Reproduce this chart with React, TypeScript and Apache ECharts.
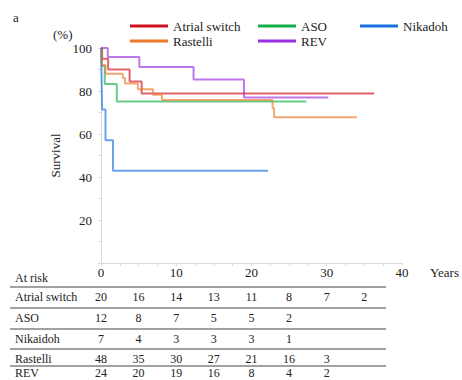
import React, { useEffect, useRef } from 'react';
import * as echarts from 'echarts';

// Legend / series names (as printed in the legend)
const seriesNames = ['Atrial switch', 'ASO', 'Nikadoh', 'Rastelli', 'REV'];
const seriesColors = ['#d0101e', '#12b04a', '#1a6ee0', '#ea7a26', '#9a2ee0'];

// Kaplan-Meier step points: time (years) and survival (%)
const atrialT = [0, 0.15, 0.95, 3.8, 5.4, 36.3];
const atrialS = [100, 95, 90, 84.4, 78.8, 78.8];
const asoT = [0, 0.1, 0.5, 2.1, 27.3];
const asoS = [100, 91.7, 83.3, 75.1, 75.1];
const nikT = [0, 0.08, 0.15, 0.6, 1.6, 22.2];
const nikS = [100, 85.7, 71.4, 57.1, 42.9, 42.9];
const rasT = [0, 0.1, 0.6, 2.9, 3.2, 4.9, 6.9, 8.1, 22.8, 23.0, 34.0];
const rasS = [100, 92, 88, 86, 83.5, 80.8, 78.3, 75.8, 72, 67.8, 67.8];
const revT = [0, 0.9, 5.1, 12.3, 19.0, 30.2];
const revS = [100, 95.8, 91.2, 85.4, 77, 77];

// Number at risk table
const riskYears = [0, 5, 10, 15, 20, 25, 30, 35];
const riskGroups = ['Atrial switch', 'ASO', 'Nikaidoh', 'Rastelli', 'REV'];
const riskAtrial = [20, 16, 14, 13, 11, 8, 7, 2];
const riskASO = [12, 8, 7, 5, 5, 2];
const riskNik = [7, 4, 3, 3, 3, 1];
const riskRas = [48, 35, 30, 27, 21, 16, 3];
const riskREV = [24, 20, 19, 16, 8, 4, 2];

// tick values
const xTicks = [0, 10, 20, 30, 40];
const yTicks = [20, 40, 60, 80, 100];

const FONT = 'Liberation Serif, Times New Roman, serif';

export default function App() {
  const ref = useRef<HTMLDivElement>(null);
  useEffect(() => {
    if (!ref.current) return;
    const chart = echarts.init(ref.current, undefined, { renderer: 'svg' });
    const times = [atrialT, asoT, nikT, rasT, revT];
    const survs = [atrialS, asoS, nikS, rasS, revS];
    const series = seriesNames.map((name, i) => ({
      name,
      type: 'line',
      step: 'end',
      symbol: 'none',
      color: seriesColors[i],
      lineStyle: { width: 2, opacity: 0.65 },
      data: times[i].map((t, j) => [t, survs[i][j]]),
    }));
    const legendBase = {
      orient: 'vertical',
      top: 14,
      icon: 'rect',
      itemWidth: 38,
      itemHeight: 3,
      itemGap: 1,
      itemTextGap: 7,
      textStyle: { fontFamily: FONT, fontSize: 13, color: '#222', lineHeight: 14 },
    };
    chart.setOption({
      animation: false,
      grid: { left: 101, right: 59, top: 48, bottom: 117 },
      legend: [
        { ...legendBase, left: 125, data: ['Atrial switch', 'Rastelli'] },
        { ...legendBase, left: 253, data: ['ASO', 'REV'] },
        { ...legendBase, left: 355, data: ['Nikadoh'] },
      ],
      xAxis: {
        type: 'value',
        min: xTicks[0],
        max: xTicks[xTicks.length - 1],
        interval: 10,
        name: 'Years',
        nameLocation: 'end',
        nameGap: 28,
        nameTextStyle: { fontFamily: FONT, fontSize: 13, color: '#222', verticalAlign: 'top', padding: [3, 0, 0, 0] },
        axisLine: { lineStyle: { color: '#d9d9d9' } },
        axisTick: { show: true, length: 3, lineStyle: { color: '#d9d9d9' } },
        minorTick: { show: true, splitNumber: 4, length: 3, lineStyle: { color: '#d9d9d9' } },
        splitLine: { show: false },
        axisLabel: { fontFamily: FONT, fontSize: 13, color: '#222', margin: 3 },
      },
      yAxis: {
        type: 'value',
        min: 0,
        max: yTicks[yTicks.length - 1],
        interval: 20,
        name: 'Survival',
        nameLocation: 'middle',
        nameGap: 38,
        nameTextStyle: { fontFamily: FONT, fontSize: 13, color: '#222' },
        axisLine: { show: true, lineStyle: { color: '#d9d9d9' } },
        axisTick: { show: true, length: 3, lineStyle: { color: '#d9d9d9' } },
        minorTick: { show: true, splitNumber: 2, length: 3, lineStyle: { color: '#d9d9d9' } },
        splitLine: { show: false },
        axisLabel: {
          fontFamily: FONT, fontSize: 13, color: '#222', margin: 9,
          formatter: (v: number) => (v === 0 ? '' : String(v)),
        },
      },
      series,
    });

    const riskRows = [riskAtrial, riskASO, riskNik, riskRas, riskREV];
    const rowY = [297, 318, 339, 359, 373];
    const lineY = [287, 308, 329, 349, 366];
    const els: any[] = [];
    els.push({ type: 'text', left: 13, top: 11, style: { text: 'a', font: `13px ${FONT}`, fill: '#222' } });
    els.push({ type: 'text', x: 53, y: 34, style: { text: '(%)', font: `13px ${FONT}`, fill: '#222', verticalAlign: 'middle' } });
    els.push({ type: 'text', x: 15, y: 278, style: { text: 'At risk', font: `12px ${FONT}`, fill: '#222', verticalAlign: 'middle' } });
    lineY.forEach((y) => {
      els.push({ type: 'line', shape: { x1: 10, y1: y, x2: 386, y2: y }, style: { stroke: '#444', lineWidth: 1.2 } });
    });
    riskGroups.forEach((g, r) => {
      els.push({ type: 'text', x: 15, y: rowY[r], style: { text: g, font: `12px ${FONT}`, fill: '#222', verticalAlign: 'middle' } });
      riskRows[r].forEach((n, c) => {
        const px = chart.convertToPixel({ xAxisIndex: 0 }, riskYears[c]) as number;
        els.push({
          type: 'text', x: px, y: rowY[r],
          style: { text: String(n), font: `12px ${FONT}`, fill: '#222', align: 'center', verticalAlign: 'middle' },
        });
      });
    });
    chart.setOption({ graphic: els });
    return () => chart.dispose();
  }, []);
  return (
    <div
      ref={ref}
      style={{ position: 'fixed', left: 0, top: 0, width: 462, height: 380, background: '#fff' }}
    />
  );
}
